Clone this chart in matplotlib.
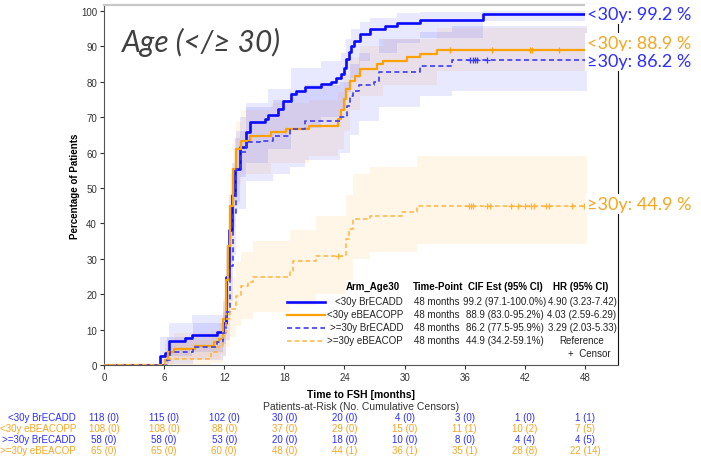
import matplotlib
matplotlib.use("Agg")
import matplotlib.pyplot as plt
from matplotlib.lines import Line2D
from matplotlib.transforms import blended_transform_factory

plt.rcParams["font.family"] = ["Liberation Sans Narrow", "Liberation Sans", "DejaVu Sans"]

# ---- data ----------------------------------------------------------------
# <30y BrECADD (solid blue)
brecadd_lt_t = [0, 5.6, 6.1, 6.5, 8.1, 8.8, 11.3, 11.9, 12.2, 12.5, 12.8, 13.1, 13.6,
                14.2, 14.6, 16.1, 16.4, 17.4, 17.9, 18.7, 19.2, 20.1, 21.7, 22.7,
                23.2, 23.7, 24.0, 24.2, 24.5, 24.7, 25.0, 25.6, 26.5, 28.0, 29.2,
                31.5, 37.8, 48.2]
brecadd_lt_v = [0, 2.5, 3.4, 6.8, 7.6, 8.5, 9.3, 12, 25, 38, 48, 55.4, 61.6,
                65.8, 68.6, 69.5, 70.5, 72.3, 74.7, 76.6, 77.5, 78.4, 79.4, 80.0,
                81.0, 82.2, 84.0, 86.4, 88.5, 90.0, 91.6, 93.5, 94.9, 95.8, 96.6,
                97.5, 99.2, 99.2]
brecadd_lt_cens = [48.2]
brecadd_lt_ci_t = [5.6, 6.5, 8.8, 11.9, 12.2, 12.5, 12.8, 13.1, 13.6, 14.2, 16.4, 18.7,
                   21.7, 23.7, 24.2, 24.7, 25.6, 26.5, 29.2, 31.5, 37.8, 48.2]
brecadd_lt_lo = [0.3, 2.5, 3.8, 6, 17, 29, 39, 46, 53, 57, 61, 67, 70, 72, 77, 81, 86,
                 88, 91, 92.5, 97.1, 97.1]
brecadd_lt_hi = [8, 12, 14, 18, 34, 48, 57, 64, 70, 74, 78, 84, 86, 88, 92, 95, 97, 98,
                 99.5, 99.8, 100, 100]

# <30y eBEACOPP (solid orange)
ebea_lt_t = [0, 6.1, 6.4, 7.0, 9.1, 11.0, 11.5, 11.9, 12.2, 12.4, 12.6, 12.9, 13.2,
             13.7, 14.6, 16.7, 18.2, 20.5, 23.4, 23.7, 24.0, 24.2, 24.6, 25.1,
             25.6, 27.2, 27.8, 30.2, 31.5, 33.2, 48.2]
ebea_lt_v = [0, 1.5, 3.7, 4.6, 5.5, 6.4, 7.3, 13, 24, 33.7, 45, 55.4, 61,
             63.4, 64.8, 65.7, 66.7, 67.6, 69.5, 72, 75.1, 78, 80.3, 81.7,
             83.6, 85.0, 86.0, 86.9, 87.9, 88.9, 88.9]
ebea_lt_cens = [34.5, 38.7, 42.5, 42.7, 45.4]
ebea_lt_ci_t = [6.1, 7.0, 11.5, 11.9, 12.2, 12.4, 12.6, 12.9, 13.2, 13.7, 16.7, 20.5,
                23.4, 24.0, 24.6, 25.6, 27.8, 33.2, 48.2]
ebea_lt_lo = [0.2, 1.8, 3, 7, 16, 25, 36, 46, 51, 54, 57, 59, 61, 66, 72, 76, 79, 83, 83.0]
ebea_lt_hi = [6, 9, 12, 19, 32, 43, 54, 64, 69, 72, 74, 75, 77, 82, 87, 90, 92, 95.2, 95.2]

# >=30y BrECADD (dashed blue)
brecadd_ge_t = [0, 6.3, 6.6, 8.9, 11.3, 11.9, 12.2, 12.6, 12.9, 13.2, 13.7, 14.2,
                15.6, 16.9, 18.6, 20.1, 23.6, 24.3, 24.6, 24.9, 25.5, 26.9, 27.4,
                31.5, 34.7, 48.2]
brecadd_ge_v = [0, 1.5, 3.7, 5.0, 6.4, 9, 15, 28, 43, 55.4, 60.1, 62.9,
                63.4, 64.8, 66.7, 69.0, 70.0, 73.2, 76.1, 77.5, 79.0, 79.9, 82.7,
                84.6, 86.2, 86.2]
brecadd_ge_cens = [36.5, 36.8, 37.0, 37.2, 38.2, 48.2]
brecadd_ge_ci_t = [6.3, 8.9, 11.9, 12.2, 12.6, 12.9, 13.2, 14.2, 16.9, 18.6, 20.1, 23.6,
                   24.6, 25.5, 27.4, 31.5, 34.7, 48.2]
brecadd_ge_lo = [0.2, 1.5, 2.5, 7, 18, 31, 44, 52, 54, 56, 58, 60, 65, 69, 73, 76, 77.5, 77.5]
brecadd_ge_hi = [8, 12, 15, 24, 38, 54, 66, 73, 75, 77, 79, 80, 85, 88, 92, 94, 95.9, 95.9]

# >=30y eBEACOP (dashed orange)
ebea_ge_t = [0, 6.1, 10.7, 11.3, 11.9, 12.2, 12.6, 13.2, 13.7, 14.4, 14.9, 18.6,
             18.9, 21.2, 24.2, 24.5, 24.9, 26.5, 29.7, 31.2, 48.2]
ebea_ge_v = [0, 1.7, 3.7, 5.0, 8.3, 13, 15.8, 19.6, 22.4, 23.4, 24.8, 26.6,
             29.5, 30.9, 35.6, 38.5, 41.2, 42.2, 43.1, 44.9, 44.9]
ebea_ge_cens = [23.4, 36.4, 36.6, 36.8, 38.2, 38.5, 40.6, 41.3, 42.0, 42.6, 42.9,
                44.1, 44.4, 46.7, 47.9]
ebea_ge_ci_t = [6.1, 10.7, 11.9, 12.2, 12.6, 13.2, 13.7, 14.9, 18.6, 21.2, 24.2, 24.9,
                26.5, 31.2, 48.2]
ebea_ge_lo = [0.1, 0.5, 2.5, 5, 8, 11, 13, 15, 17, 20, 24, 30, 32, 34.2, 34.2]
ebea_ge_hi = [7, 10, 16, 21, 25, 29, 32, 35, 38, 42, 48, 54, 56, 59.1, 59.1]

ARMS = ["<30y BrECADD", "<30y eBEACOPP", ">=30y BrECADD", ">=30y eBEACOP"]
CIF_EST = ["99.2 (97.1-100.0%)", "88.9 (83.0-95.2%)", "86.2 (77.5-95.9%)", "44.9 (34.2-59.1%)"]
HR_CI = ["4.90 (3.23-7.42)", "4.03 (2.59-6.29)", "3.29 (2.03-5.33)", "Reference"]
END_LABELS = ["<30y: 99.2 %", "<30y: 88.9 %", "\u226530y: 86.2 %", "\u226530y: 44.9 %"]

RISK_TIMES = [0, 6, 12, 18, 24, 30, 36, 42, 48]
RISK = [
    ["118 (0)", "115 (0)", "102 (0)", "30 (0)", "20 (0)", "4 (0)", "3 (0)", "1 (0)", "1 (1)"],
    ["108 (0)", "108 (0)", "88 (0)", "37 (0)", "29 (0)", "15 (0)", "11 (1)", "10 (2)", "7 (5)"],
    ["58 (0)", "58 (0)", "53 (0)", "20 (0)", "18 (0)", "10 (0)", "8 (0)", "4 (4)", "4 (5)"],
    ["65 (0)", "65 (0)", "60 (0)", "48 (0)", "44 (1)", "36 (1)", "35 (1)", "28 (8)", "22 (14)"],
]

BLUE = "#0a0aff"
ORANGE = "#ffa100"
BLUE_TXT = "#2e2eff"
ORANGE_TXT = "#f5a623"
TXT = "#222222"
FS = 7

W, H = 701, 460


def fx(x):
    return x / W


def fy(y):
    return 1 - y / H


fig = plt.figure(figsize=(W / 100, H / 100), dpi=100)
ax = fig.add_axes([fx(104), fy(366), fx(618) - fx(104), fy(6) - fy(366)])

curves = [
    (brecadd_lt_t, brecadd_lt_v, brecadd_lt_cens, brecadd_lt_ci_t, brecadd_lt_lo, brecadd_lt_hi,
     BLUE, "-", 1.9, "#0000ff"),
    (ebea_lt_t, ebea_lt_v, ebea_lt_cens, ebea_lt_ci_t, ebea_lt_lo, ebea_lt_hi,
     ORANGE, "-", 1.6, "#ffa500"),
    (brecadd_ge_t, brecadd_ge_v, brecadd_ge_cens, brecadd_ge_ci_t, brecadd_ge_lo, brecadd_ge_hi,
     "#3b3bf5", (0, (3, 2)), 1.2, "#0000ff"),
    (ebea_ge_t, ebea_ge_v, ebea_ge_cens, ebea_ge_ci_t, ebea_ge_lo, ebea_ge_hi,
     "#ffb43c", (0, (3, 2)), 1.1, "#ffa500"),
]

# bands first, then the step lines on top
for t, v, cens, ct, lo, hi, col, ls, lw, band in curves:
    ax.fill_between(ct, lo, hi, step="post", color=band, alpha=0.09, lw=0)

for t, v, cens, ct, lo, hi, col, ls, lw, band in curves:
    ax.step(t, v, where="post", color=col, ls=ls, lw=lw, zorder=3)
    cv = [v[max(i for i in range(len(t)) if t[i] <= c)] for c in cens]
    ax.plot(cens, cv, ls="none", marker="+", ms=5, mew=0.9, color=col, zorder=4)

ax.set_xlim(0, 51.3)
ax.set_ylim(0, 101.7)
ax.set_xticks(RISK_TIMES)
ax.set_yticks(range(0, 101, 10))
ax.tick_params(labelsize=FS, colors="#333333", length=3, width=0.8, pad=2)
for s in ("left", "bottom"):
    ax.spines[s].set_color("#555555")
ax.spines["right"].set_color("#111111")
ax.spines["top"].set_color("#c8c8c8")
ax.spines["top"].set_linewidth(1.6)
ax.set_ylabel("Percentage of Patients", fontsize=FS, fontweight="bold", labelpad=1)

# title inside plot
fig.text(fx(122), fy(42), "Age (</\u2265 30)", fontsize=21.5, style="italic",
         family=["Lato", "DejaVu Sans"], color="#404040", va="center", ha="left")

# end labels
end_y = [15, 44, 62, 205]
end_c = [BLUE_TXT, ORANGE_TXT, BLUE_TXT, ORANGE_TXT]
for lab, y, c in zip(END_LABELS, end_y, end_c):
    fig.text(fx(587), fy(y), lab, fontsize=13, family=["Lato", "DejaVu Sans"], color=c,
             va="center", ha="left",
             bbox=dict(facecolor="white", edgecolor="none", pad=1.2), zorder=10)

# legend table
hdr_y = 287
for xc, s in zip([373, 438, 505, 581],
                 ["Arm_Age30", "Time-Point", "CIF Est (95% CI)", "HR (95% CI)"]):
    fig.text(fx(xc), fy(hdr_y), s, fontsize=FS, fontweight="bold", ha="center", va="center")
row_y = [302, 315, 328, 341]
for i, (t, v, cens, ct, lo, hi, col, ls, lw, band) in enumerate(curves):
    y = row_y[i]
    fig.add_artist(Line2D([fx(287), fx(325)], [fy(y + 1), fy(y + 1)], color=col, ls=ls, lw=lw))
    fig.text(fx(403), fy(y), ARMS[i], fontsize=FS, ha="right", va="center", color=TXT)
    fig.text(fx(437), fy(y), "48 months", fontsize=FS, ha="center", va="center", color=TXT)
    fig.text(fx(505), fy(y), CIF_EST[i], fontsize=FS, ha="center", va="center", color=TXT)
    fig.text(fx(582), fy(y), HR_CI[i], fontsize=FS, ha="center", va="center", color=TXT)
fig.text(fx(611), fy(354), "+  Censor", fontsize=FS, ha="right", va="center", color=TXT)

# x label and risk table
fig.text(fx(361), fy(395), "Time to FSH [months]", fontsize=7.5, fontweight="bold",
         ha="center", va="center")
fig.text(fx(361), fy(407), "Patients-at-Risk (No. Cumulative Censors)", fontsize=FS + 0.5,
         ha="center", va="center", color="#333333")
trans = blended_transform_factory(ax.transData, fig.transFigure)
risk_y = [418, 429, 440, 451]
risk_c = [BLUE_TXT, ORANGE_TXT, BLUE_TXT, ORANGE_TXT]
for arm, row, y, c in zip(ARMS, RISK, risk_y, risk_c):
    fig.text(fx(76), fy(y), arm, fontsize=FS, ha="right", va="center", color=c)
    for xt, s in zip(RISK_TIMES, row):
        ax.text(xt, fy(y), s, transform=trans, fontsize=FS, ha="center", va="center",
                color=c, clip_on=False)

fig.savefig("out.png", dpi=100)
